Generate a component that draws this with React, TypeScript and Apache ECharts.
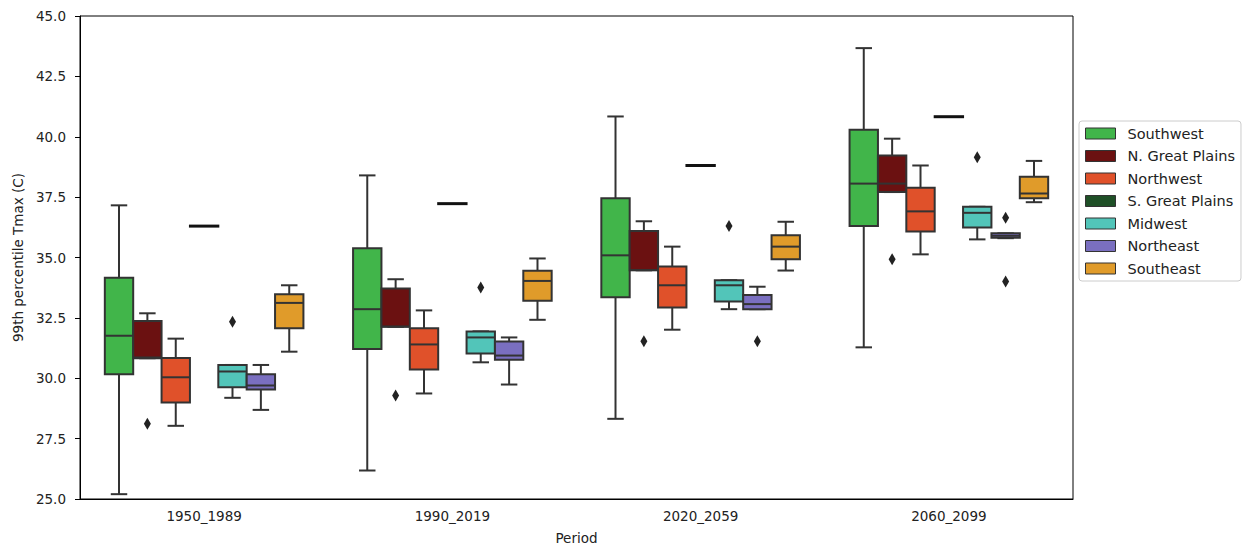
import React, { useEffect, useRef } from 'react';
import * as echarts from 'echarts';

const periods = ['1950_1989', '1990_2019', '2020_2059', '2060_2099'];
const regionNames = ['Southwest', 'N. Great Plains', 'Northwest', 'S. Great Plains', 'Midwest', 'Northeast', 'Southeast'];
const regionColors = ['#41b54a', '#6b1111', '#e0512a', '#1f5027', '#52c5b9', '#7a6fc0', '#e09b2a'];

// [low whisker, Q1, median, Q3, high whisker] per period
const southwest = [
  [25.2, 30.17, 31.76, 34.16, 37.16],
  [26.18, 31.21, 32.86, 35.38, 38.4],
  [28.32, 33.35, 35.09, 37.45, 40.84],
  [31.28, 36.3, 38.06, 40.29, 43.67],
];
const nGreatPlains = [
  [30.83, 30.83, 30.86, 32.37, 32.69],
  [32.13, 32.13, 32.14, 33.72, 34.1],
  [34.47, 34.47, 34.48, 36.1, 36.5],
  [37.71, 37.71, 38.06, 39.22, 39.92],
];
const northwest = [
  [28.03, 29.0, 30.04, 30.84, 31.64],
  [29.37, 30.36, 31.4, 32.07, 32.81],
  [32.01, 32.93, 33.85, 34.63, 35.45],
  [35.13, 36.08, 36.91, 37.89, 38.81],
];
const sGreatPlains = [
  [36.3, 36.3, 36.3, 36.3, 36.3],
  [37.23, 37.23, 37.23, 37.23, 37.23],
  [38.81, 38.81, 38.81, 38.81, 38.81],
  [40.83, 40.83, 40.83, 40.83, 40.83],
];
const midwest = [
  [29.19, 29.63, 30.28, 30.55, 30.55],
  [30.66, 31.02, 31.69, 31.94, 31.94],
  [32.86, 33.18, 33.85, 34.06, 34.06],
  [35.75, 36.24, 36.85, 37.1, 37.1],
];
const northeast = [
  [28.69, 29.53, 29.7, 30.17, 30.55],
  [29.74, 30.77, 30.94, 31.52, 31.69],
  [32.86, 32.86, 33.07, 33.45, 33.79],
  [35.8, 35.82, 35.9, 36.0, 36.0],
];
const southeast = [
  [31.1, 32.07, 33.12, 33.48, 33.85],
  [32.42, 33.21, 34.03, 34.45, 34.96],
  [34.46, 34.93, 35.45, 35.92, 36.48],
  [37.29, 37.45, 37.65, 38.34, 39.0],
];

// outliers: [period index, value]
const nGreatPlainsOutliers = [[0, 28.12], [1, 29.29], [2, 31.53], [3, 34.93]];
const midwestOutliers = [[0, 32.34], [1, 33.76], [2, 36.3], [3, 39.15]];
const northeastOutliers = [[2, 31.53], [3, 36.65], [3, 34.01]];

const yTicks = { min: 25, max: 45, interval: 2.5 };

const regionStats = [southwest, nGreatPlains, northwest, sGreatPlains, midwest, northeast, southeast];
const outlierSets: [number, number[][]][] = [
  [1, nGreatPlainsOutliers],
  [4, midwestOutliers],
  [5, northeastOutliers],
];

const FONT = 'DejaVu Sans';
const EDGE = '#333333';

export default function App() {
  const ref = useRef<HTMLDivElement>(null);
  useEffect(() => {
    const chart = echarts.init(ref.current!, null, { renderer: 'svg' });
    const n = regionNames.length;
    const groupWidth = 0.8;

    const boxSeries = regionNames.map((name, ri) => ({
      type: 'custom',
      name,
      itemStyle: { color: regionColors[ri] },
      encode: { x: 0, y: [1, 2, 3, 4, 5] },
      data: regionStats[ri].map((s, pi) => [pi, ...s]),
      renderItem: (params: any, api: any) => {
        const c = api.value(0);
        const band = api.size([1, 0])[0];
        const w = (band * groupWidth) / n;
        const cx = api.coord([c, api.value(3)])[0] + (ri - (n - 1) / 2) * w;
        const ys = [1, 2, 3, 4, 5].map((k) => api.coord([c, api.value(k)])[1]);
        const [yLow, yQ1, yMed, yQ3, yHigh] = ys;
        const half = w / 2;
        const cap = w * 0.29;
        const ls = { stroke: EDGE, lineWidth: 2 };
        const collapsed = Math.abs(yQ1 - yQ3) < 0.5;
        if (collapsed) {
          return {
            type: 'line',
            shape: { x1: cx - half - 1, y1: yMed, x2: cx + half + 1, y2: yMed },
            style: { stroke: '#111', lineWidth: 3 },
          };
        }
        return {
          type: 'group',
          children: [
            { type: 'line', shape: { x1: cx, y1: yQ3, x2: cx, y2: yHigh }, style: ls },
            { type: 'line', shape: { x1: cx, y1: yQ1, x2: cx, y2: yLow }, style: ls },
            { type: 'line', shape: { x1: cx - cap, y1: yHigh, x2: cx + cap, y2: yHigh }, style: ls },
            { type: 'line', shape: { x1: cx - cap, y1: yLow, x2: cx + cap, y2: yLow }, style: ls },
            {
              type: 'polygon',
              shape: { points: [[cx - half, yQ3], [cx + half, yQ3], [cx + half, yQ1], [cx - half, yQ1]] },
              style: { fill: regionColors[ri], stroke: EDGE, lineWidth: 2 },
            },
            { type: 'line', shape: { x1: cx - half, y1: yMed, x2: cx + half, y2: yMed }, style: ls },
          ],
        };
      },
    }));

    const outlierData: number[][] = [];
    outlierSets.forEach(([ri, arr]) => arr.forEach(([pi, v]) => outlierData.push([pi, v, ri])));

    const outlierSeries = {
      type: 'custom',
      name: 'outliers',
      encode: { x: 0, y: 1 },
      data: outlierData,
      renderItem: (params: any, api: any) => {
        const c = api.value(0);
        const ri = api.value(2);
        const band = api.size([1, 0])[0];
        const w = (band * groupWidth) / n;
        const p = api.coord([c, api.value(1)]);
        const x = p[0] + (ri - (n - 1) / 2) * w;
        const y = p[1];
        return {
          type: 'polygon',
          shape: { points: [[x, y - 6], [x + 3.5, y], [x, y + 6], [x - 3.5, y]] },
          style: { fill: '#222' },
        };
      },
    };

    chart.setOption({
      animation: false,
      backgroundColor: '#fff',
      grid: { left: 80, right: 174, top: 16, bottom: 50, show: true, borderColor: '#000', borderWidth: 1 },
      legend: {
        data: regionNames,
        orient: 'vertical',
        left: 1079,
        top: 121,
        icon: 'rect',
        itemWidth: 30,
        itemHeight: 11,
        itemGap: 7.5,
        padding: [5, 6, 5, 6],
        borderColor: '#ccc',
        borderWidth: 1,
        borderRadius: 3,
        itemStyle: { borderColor: '#333', borderWidth: 1 },
        textStyle: { fontFamily: FONT, fontSize: 14.5, lineHeight: 15, color: '#222', padding: [0, 0, 0, 7] },
      },
      xAxis: {
        type: 'category',
        data: periods,
        name: 'Period',
        nameLocation: 'middle',
        nameGap: 32,
        nameTextStyle: { fontFamily: FONT, fontSize: 13.5, color: '#222' },
        axisLine: { lineStyle: { color: '#000', width: 1 } },
        axisTick: { alignWithLabel: true, length: 5, lineStyle: { color: '#000' } },
        axisLabel: { fontFamily: FONT, fontSize: 13.5, color: '#222', margin: 10 },
        splitLine: { show: false },
      },
      yAxis: {
        type: 'value',
        min: yTicks.min,
        max: yTicks.max,
        interval: yTicks.interval,
        name: '99th percentile Tmax (C)',
        nameLocation: 'middle',
        nameGap: 55,
        nameTextStyle: { fontFamily: FONT, fontSize: 13.5, color: '#222' },
        axisLine: { show: true, lineStyle: { color: '#000', width: 1 } },
        axisTick: { show: true, length: 5, lineStyle: { color: '#000' } },
        axisLabel: { fontFamily: FONT, fontSize: 13.5, color: '#222', margin: 14, formatter: (v: number) => v.toFixed(1) },
        splitLine: { show: false },
      },
      series: [...boxSeries, outlierSeries],
    });
    return () => chart.dispose();
  }, []);
  return <div ref={ref} style={{ position: 'absolute', left: 0, top: 0, width: 1247, height: 550 }} />;
}
